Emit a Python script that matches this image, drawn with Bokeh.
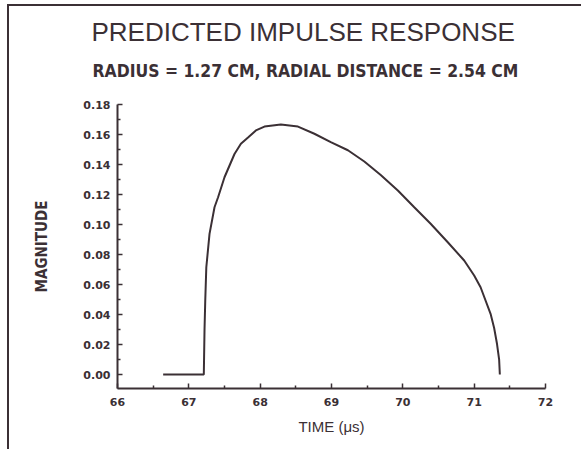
from bokeh.plotting import figure
from bokeh.models import FixedTicker, PrintfTickFormatter, Range1d, Title
from bokeh.embed import file_html
from bokeh.resources import INLINE

# Data
time_us = [66.64, 67.21, 67.22, 67.23, 67.245, 67.29, 67.36, 67.41, 67.50, 67.64,
           67.73, 67.83, 67.94, 68.06, 68.29, 68.53, 68.76, 68.99, 69.23, 69.46,
           69.69, 69.93, 70.16, 70.39, 70.63, 70.86, 71.0, 71.09, 71.23, 71.28,
           71.32, 71.35, 71.36]
magnitude = [0.0, 0.0, 0.03, 0.049, 0.0715, 0.0938, 0.1115, 0.1182, 0.1315, 0.147,
             0.1538, 0.158, 0.1627, 0.1653, 0.1667, 0.1653, 0.1605, 0.1549, 0.1495, 0.1420,
             0.1330, 0.1227, 0.1115, 0.1005, 0.0882, 0.076, 0.066, 0.0582, 0.0405, 0.031,
             0.0205, 0.01, 0.0]

x_ticks = [66, 67, 68, 69, 70, 71, 72]
x_minor = [66.5, 67.5, 68.5, 69.5, 70.5, 71.5]
y_ticks = [0.0, 0.02, 0.04, 0.06, 0.08, 0.10, 0.12, 0.14, 0.16, 0.18]
y_minor = [0.01, 0.03, 0.05, 0.07, 0.09, 0.11, 0.13, 0.15, 0.17]

title_text = "PREDICTED IMPULSE RESPONSE"
subtitle_text = "RADIUS = 1.27 CM, RADIAL DISTANCE = 2.54 CM"

INK = "#3b3035"
NARROW = "DejaVu Sans Condensed"

p = figure(width=574, height=445, output_backend="svg", toolbar_location=None,
           x_range=Range1d(66, 72), y_range=Range1d(-0.0093, 0.18),
           min_border_left=108, min_border_right=38, min_border_top=98, min_border_bottom=63)
p.styles = {"border-left": "2px solid " + INK, "border-top": "2px solid " + INK,
            "margin-left": "7px", "margin-top": "4px"}
p.outline_line_color = None
p.grid.visible = False
p.background_fill_color = "white"
p.border_fill_color = "white"

# main title (outermost)
p.title.text = title_text
p.title.align = "left"
p.title.offset = -26
p.title.standoff = 0
p.title.text_font = "Liberation Sans"
p.title.text_font_style = "normal"
p.title.text_font_size = "26px"
p.title.text_color = INK
# blank spacer between frame and subtitle
p.add_layout(Title(text=" ", text_font_size="1px", standoff=9), "above")
# subtitle
p.add_layout(Title(text=subtitle_text, align="left", offset=-25, standoff=24,
                   text_font=NARROW, text_font_style="bold",
                   text_font_size="17.4px", text_color=INK), "above")

p.line(time_us, magnitude, line_color=INK, line_width=2)

p.xaxis.ticker = FixedTicker(ticks=x_ticks, minor_ticks=x_minor)
p.yaxis.ticker = FixedTicker(ticks=y_ticks, minor_ticks=y_minor)
p.yaxis.formatter = PrintfTickFormatter(format="%.2f")

for ax in (p.xaxis[0], p.yaxis[0]):
    ax.axis_line_color = INK
    ax.axis_line_width = 2
    ax.major_tick_line_color = INK
    ax.major_tick_line_width = 1.5
    ax.major_tick_in = 5
    ax.major_tick_out = 0
    ax.minor_tick_line_color = INK
    ax.minor_tick_line_width = 1.5
    ax.minor_tick_in = 3
    ax.minor_tick_out = 0
    ax.major_label_text_font = "DejaVu Sans"
    ax.major_label_text_font_style = "bold"
    ax.major_label_text_font_size = "11px"
    ax.major_label_text_color = INK
    ax.axis_label_text_color = INK

p.xaxis.axis_label = "TIME (\u03bcs)"
p.xaxis.axis_label_text_font = "Liberation Sans"
p.xaxis.axis_label_text_font_style = "normal"
p.xaxis.axis_label_text_font_size = "15px"
p.yaxis.axis_label = "MAGNITUDE"
p.yaxis.axis_label_text_font = NARROW
p.yaxis.axis_label_text_font_style = "bold"
p.yaxis.axis_label_text_font_size = "15px"
p.xaxis.major_label_standoff = 9
p.yaxis.major_label_standoff = 7
p.xaxis.axis_label_standoff = 9
p.yaxis.axis_label_standoff = 29

open("out.html", "w").write(file_html(p, INLINE))
